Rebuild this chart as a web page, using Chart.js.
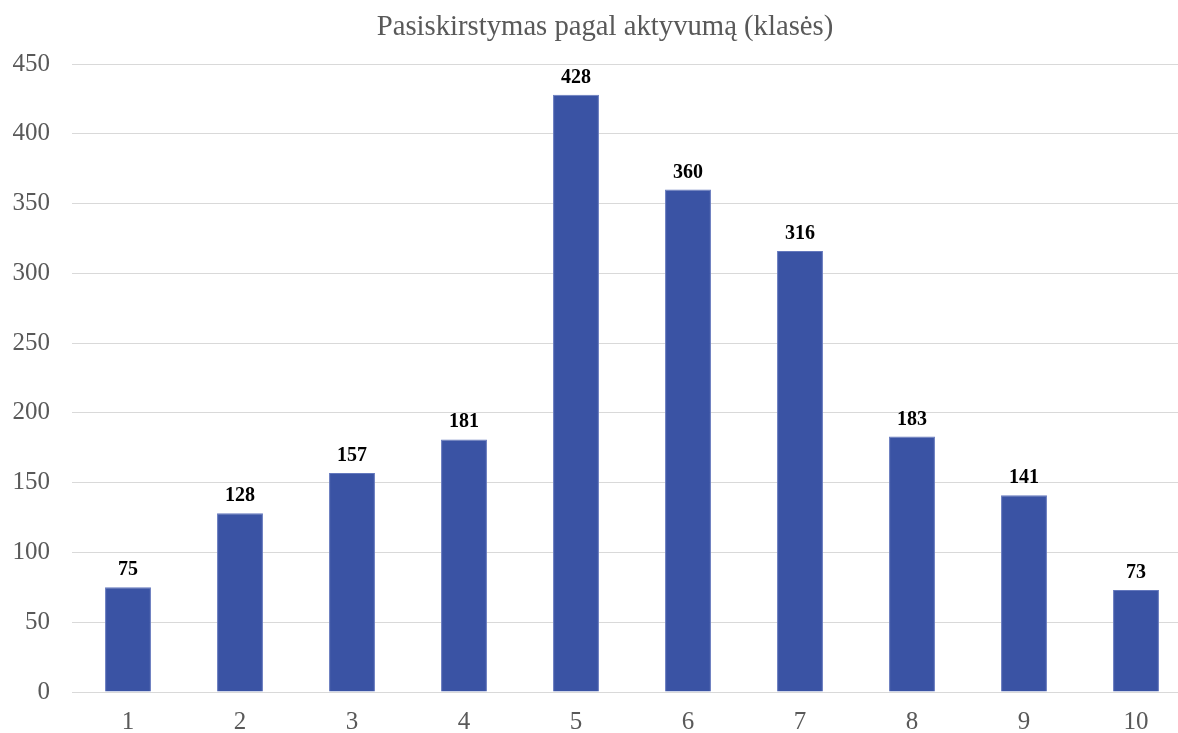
<!DOCTYPE html>
<html>
<head>
<meta charset="utf-8">
<script src="https://cdn.jsdelivr.net/npm/chart.js@4/dist/chart.umd.min.js"></script>
<style>
  html, body { margin: 0; padding: 0; overflow: hidden; background: #fff; }
  #wrap { position: absolute; left: 0; top: 0; width: 1210px; height: 733px; }
</style>
</head>
<body>
<div id="wrap"><canvas id="chart"></canvas></div>
<script>
const categories = ['1', '2', '3', '4', '5', '6', '7', '8', '9', '10'];
const counts = [75, 128, 157, 181, 428, 360, 316, 183, 141, 73];
const yTicks = [0, 50, 100, 150, 200, 250, 300, 350, 400, 450];
const titleText = 'Pasiskirstymas pagal aktyvumą (klasės)';

const serif = '"Liberation Serif", "Times New Roman", serif';

// draws the value above each bar, and the title
const barLabels = {
    id: 'barLabels',
    afterDatasetsDraw(chart) {
        const ctx = chart.ctx;
        const meta = chart.getDatasetMeta(0);
        ctx.save();
        ctx.font = 'bold 20px ' + serif;
        ctx.fillStyle = '#000';
        ctx.textAlign = 'center';
        ctx.textBaseline = 'alphabetic';
        meta.data.forEach((bar, i) => {
            ctx.fillText(String(counts[i]), bar.x, bar.y - 12);
        });
        ctx.font = '28.7px ' + serif;
        ctx.fillStyle = '#595959';
        ctx.fillText(titleText, 605, 35);
        ctx.restore();
    }
};

new Chart(document.getElementById('chart'), {
    type: 'bar',
    data: {
        labels: categories,
        datasets: [{
            data: counts,
            backgroundColor: '#3A53A4',
            borderColor: '#6478bd',
            borderWidth: 1,
            barPercentage: 0.41,
            categoryPercentage: 1
        }]
    },
    options: {
        responsive: true,
        maintainAspectRatio: false,
        animation: false,
        layout: { padding: { left: 0, right: 18, top: 64, bottom: 0 } },
        plugins: {
            legend: { display: false },
            tooltip: { enabled: false },
            title: { display: false }
        },
        scales: {
            x: {
                grid: { display: false, drawTicks: false },
                border: { display: true, color: '#d9d9d9', width: 1 },
                ticks: {
                    color: '#595959',
                    font: { family: serif, size: 25 },
                    padding: 15
                },
                afterFit(scale) { scale.height = 41; }
            },
            y: {
                min: 0,
                max: 450,
                afterBuildTicks(scale) { scale.ticks = yTicks.map(v => ({ value: v })); },
                grid: { color: '#d9d9d9', drawTicks: false },
                border: { display: false },
                ticks: {
                    color: '#595959',
                    font: { family: serif, size: 25 },
                    padding: 22
                },
                afterFit(scale) { scale.width = 72; }
            }
        }
    },
    plugins: [barLabels]
});
</script>
</body>
</html>
